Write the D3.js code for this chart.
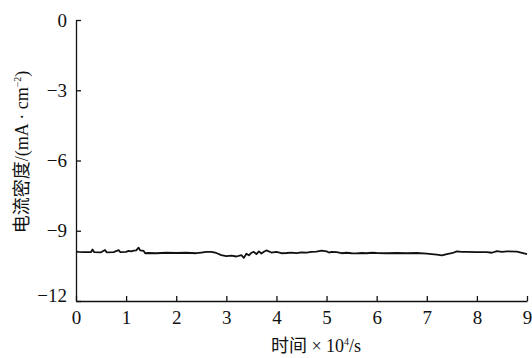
<!DOCTYPE html>
<html>
<head>
<meta charset="utf-8">
<script src="https://cdn.jsdelivr.net/npm/d3@7"></script>
<style>
  body { margin: 0; background: #fff; }
  svg { display: block; }
</style>
</head>
<body>
<svg id="chart" width="532" height="358"></svg>
<script>
  // time (x 10^4 s) and current density (mA/cm^2)
  var time = [0.00, 0.05, 0.15, 0.30, 0.33, 0.36, 0.50, 0.58, 0.61, 0.75, 0.85, 0.88,
    1.00, 1.05, 1.10, 1.15, 1.20, 1.25, 1.28, 1.35, 1.38, 1.45, 1.60, 1.80, 2.00,
    2.20, 2.40, 2.50, 2.60, 2.70, 2.80, 2.90, 3.00, 3.10, 3.20, 3.30, 3.35, 3.40,
    3.45, 3.50, 3.55, 3.60, 3.65, 3.70, 3.75, 3.80, 3.90, 4.00, 4.10, 4.20, 4.30,
    4.40, 4.50, 4.60, 4.70, 4.80, 4.90, 5.00, 5.05, 5.10, 5.20, 5.30, 5.40, 5.50,
    5.60, 5.70, 5.80, 5.90, 6.00, 6.20, 6.40, 6.60, 6.80, 7.00, 7.20, 7.30, 7.40,
    7.50, 7.60, 7.70, 7.80, 8.00, 8.20, 8.30, 8.40, 8.50, 8.60, 8.80, 9.00];
  var current = [-9.89, -9.90, -9.91, -9.91, -9.80, -9.91, -9.92, -9.82, -9.92, -9.91, -9.83, -9.91,
    -9.90, -9.86, -9.88, -9.85, -9.84, -9.72, -9.84, -9.86, -9.96, -9.95, -9.96, -9.94, -9.95,
    -9.94, -9.96, -9.93, -9.90, -9.90, -9.95, -10.04, -10.08, -10.06, -10.10, -10.04, -10.16, -9.98,
    -10.05, -9.94, -9.90, -10.00, -9.88, -9.97, -9.90, -9.84, -9.93, -9.90, -9.96, -9.95, -9.93,
    -9.96, -9.92, -9.93, -9.90, -9.89, -9.85, -9.88, -9.93, -9.90, -9.91, -9.96, -9.94, -9.96,
    -9.97, -9.95, -9.96, -9.94, -9.95, -9.96, -9.95, -9.96, -9.95, -9.98, -10.02, -10.05, -10.00,
    -9.96, -9.88, -9.90, -9.90, -9.91, -9.91, -9.94, -9.87, -9.90, -9.88, -9.89, -10.00];
  var xTicks = [0, 1, 2, 3, 4, 5, 6, 7, 8, 9];
  var yTicks = [0, -3, -6, -9, -12];

  var serif = "'Liberation Serif', 'DejaVu Serif', serif";
  var titleFont = "'Liberation Serif', 'Noto Sans CJK SC', serif";

  var svg = d3.select("#chart");
  var x = d3.scaleLinear().domain([0, 9]).range([76, 527]);
  var y = d3.scaleLinear().domain([-12, 0]).range([301, 20]);

  var data = time.map(function (t, i) { return { t: t, v: current[i] }; });

  var xAxis = d3.axisBottom(x).tickValues(xTicks).tickFormat(d3.format("d"))
    .tickSizeInner(-5).tickSizeOuter(0).tickPadding(6);
  var yAxis = d3.axisLeft(y).tickValues(yTicks)
    .tickFormat(function (d) { return d < 0 ? "\u2212" + (-d) : d; })
    .tickSizeInner(-5).tickSizeOuter(0).tickPadding(9);

  function styleAxis(g) {
    g.attr("font-family", serif).attr("font-size", 19);
    g.selectAll("path, line").attr("stroke", "#111").attr("stroke-width", 1.3);
    g.selectAll("text").attr("fill", "#111");
  }

  var gx = svg.append("g")
    .attr("transform", "translate(0," + y(-12) + ")").call(xAxis).call(styleAxis);
  gx.selectAll(".tick text").attr("dy", "0.9em");

  var gy = svg.append("g")
    .attr("transform", "translate(" + x(0) + ",0)").call(yAxis).call(styleAxis);
  gy.selectAll(".tick text").attr("dy", function (d) { return d === -12 ? "0.05em" : "0.32em"; });

  var line = d3.line().x(function (d) { return x(d.t); }).y(function (d) { return y(d.v); });
  svg.append("path").datum(data)
    .attr("fill", "none").attr("stroke", "#111").attr("stroke-width", 1.8)
    .attr("stroke-linejoin", "round").attr("d", line);

  // axis titles
  var xt = svg.append("text").attr("font-family", titleFont).attr("font-size", 18)
    .attr("fill", "#111").attr("x", 316).attr("y", 352).attr("text-anchor", "middle");
  xt.append("tspan").text("时间 × 10");
  xt.append("tspan").attr("font-size", 10).attr("dy", "-7").text("4");
  xt.append("tspan").attr("dy", "7").text("/s");

  var yt = svg.append("text").attr("font-family", titleFont).attr("font-size", 18)
    .attr("fill", "#111").attr("transform", "translate(28,152) rotate(-90)")
    .attr("text-anchor", "middle");
  yt.append("tspan").text("电流密度/(mA · cm");
  yt.append("tspan").attr("font-size", 10).attr("dy", "-7").text("\u22122");
  yt.append("tspan").attr("dy", "7").text(")");
</script>
</body>
</html>
